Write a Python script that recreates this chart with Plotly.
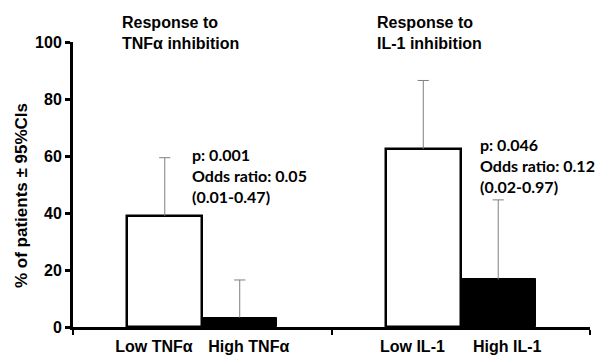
import plotly.graph_objects as go

groups = ["TNFα", "IL-1"]
low_labels = ["Low TNFα", "Low IL-1"]
high_labels = ["High TNFα", "High IL-1"]
low_vals = [39.0, 62.5]
high_vals = [3.3, 16.7]
low_ci_upper = [59.4, 86.5]
high_ci_upper = [16.5, 44.6]
titles = ["Response to<br>TNFα inhibition", "Response to<br>IL-1 inhibition"]
stats = ["p: 0.001<br>Odds ratio: 0.05<br>(0.01-0.47)",
         "p: 0.046<br>Odds ratio: 0.12<br>(0.02-0.97)"]
y_ticks = [0, 20, 40, 60, 80, 100]

W = 0.29
centers = [i + 0.5 for i in range(len(groups))]
low_x = [c - W / 2 for c in centers]
high_x = [c + W / 2 for c in centers]

AX = "Liberation Sans, Arial, sans-serif"
CAL = "Lato, Carlito, Calibri, sans-serif"
GRAY = "#7f7f7f"

# plot-area pixel geometry (for converting annotation pixel positions)
L, R, T, B = 73, 14, 42, 29
PW, PH = 604 - L - R, 356 - T - B


def px(xp):
    return (xp - L) / PW


def py(yp):
    return (356 - B - yp) / PH


fig = go.Figure()
fig.add_trace(go.Bar(
    x=low_x, y=low_vals, width=W,
    marker=dict(color="white", line=dict(color="black", width=2.5)),
    showlegend=False, hoverinfo="skip"))
fig.add_trace(go.Bar(
    x=high_x, y=high_vals, width=W,
    marker=dict(color="black", line=dict(color="black", width=1)),
    showlegend=False, hoverinfo="skip"))

# upper-only confidence whiskers
all_x = low_x + high_x
all_v = low_vals + high_vals
all_u = low_ci_upper + high_ci_upper
wx, wy = [], []
for x, v, u in zip(all_x, all_v, all_u):
    wx += [x, x, None]
    wy += [v, u, None]
fig.add_trace(go.Scatter(x=wx, y=wy, mode="lines",
                         line=dict(color=GRAY, width=1),
                         showlegend=False, hoverinfo="skip"))
fig.add_trace(go.Scatter(x=all_x, y=all_u, mode="markers",
                         marker=dict(symbol="line-ew-open", size=8, color=GRAY,
                                     line=dict(color=GRAY, width=1)),
                         showlegend=False, hoverinfo="skip"))

tickvals = []
ticktext = []
for c, lo, hi in zip(centers, low_labels, high_labels):
    tickvals += [c - 0.187, c + 0.18]
    ticktext += ["<b>%s</b>" % lo, "<b>%s</b>" % hi]

fig.update_layout(
    width=604, height=356,
    margin=dict(l=L, r=R, t=T, b=B),
    paper_bgcolor="white", plot_bgcolor="white",
    bargap=0, barmode="overlay",
    font=dict(family=AX, color="black"),
    xaxis=dict(range=[0, len(groups)], showgrid=False, zeroline=False,
               automargin=False,
               showline=True, linecolor="black", linewidth=3,
               tickmode="array", tickvals=tickvals, ticktext=ticktext,
               ticks="outside", ticklen=3, tickcolor="rgba(0,0,0,0)",
               tickfont=dict(family=AX, size=16, color="black"),
               minor=dict(tickmode="array", tickvals=[0, 1, 2], ticks="outside",
                          ticklen=5, tickwidth=2, tickcolor="black")),
    yaxis=dict(range=[0, 100], showgrid=False, zeroline=False,
               automargin=False,
               showline=True, linecolor="black", linewidth=3,
               tickmode="array", tickvals=y_ticks,
               ticks="outside", ticklen=5, tickwidth=3, tickcolor="black",
               tickfont=dict(family=AX, size=16, color="black", weight="bold")),
)

ann = []
for xp, t in zip([120, 375], titles):
    ann.append(dict(text="<b>%s</b>" % t, xref="paper", yref="paper",
                    x=px(xp), y=py(33), xanchor="left", yanchor="middle",
                    showarrow=False, align="left",
                    font=dict(family=AX, size=16, color="black")))
for xp, yp, s in zip([190, 478], [175, 165], stats):
    ann.append(dict(text="<b>%s</b>" % s, xref="paper", yref="paper",
                    x=px(xp), y=py(yp), xanchor="left", yanchor="middle",
                    showarrow=False, align="left",
                    font=dict(family=CAL, size=16, color="black")))
ann.append(dict(text="<b>% of patients ± 95%CIs</b>", xref="paper", yref="paper",
                x=px(21), y=py(196), xanchor="center", yanchor="middle",
                textangle=-90, showarrow=False,
                font=dict(family=AX, size=17, color="black")))
fig.update_layout(annotations=ann)

fig.write_html("out.html", config={"displayModeBar": False},
               post_script="document.body.style.margin='0';")
